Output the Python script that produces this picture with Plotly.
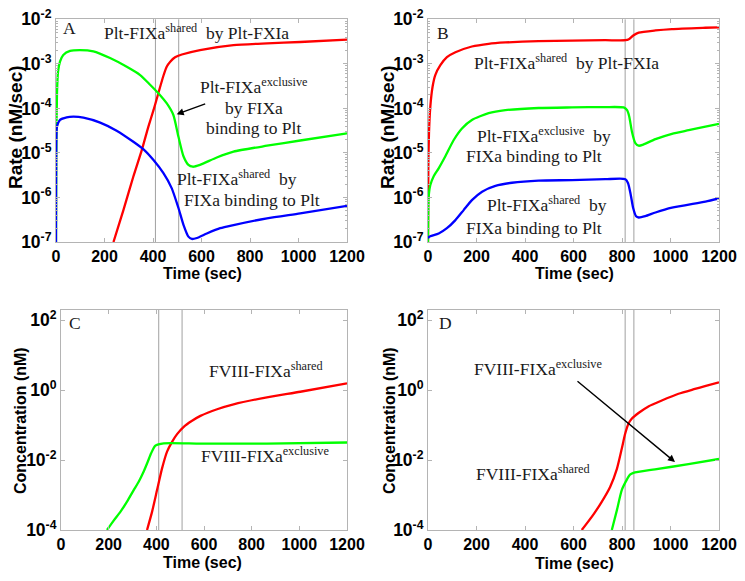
import plotly.graph_objects as go

W, H = 745, 581

# ---------------- Data ----------------
# Panel A: rates (nM/sec) vs time (sec)
tA_green = [0, 1.4, 4.1, 8.3, 16.5, 30, 58, 99, 154, 223, 290, 347, 388, 422, 457, 484, 505, 526, 546, 564, 594, 663, 732, 870, 1007, 1200]
A_green = [1e-7, 1.17e-5, 2.19e-4, 6.6e-4, 1.12e-3, 1.58e-3, 1.95e-3, 2.04e-3, 1.91e-3, 1.35e-3, 8.7e-4, 5.6e-4, 3.4e-4, 2.19e-4, 1.29e-4, 7.1e-5, 2.3e-5, 8.3e-6, 5.4e-6, 4.9e-6, 5.4e-6, 7.9e-6, 1.07e-5, 1.45e-5, 1.9e-5, 2.75e-5]
tA_blue = [0, 1.4, 4, 16.5, 44, 72, 113, 182, 250, 319, 361, 402, 443, 477, 505, 526, 546, 560, 581, 622, 677, 732, 870, 1007, 1200]
A_blue = [1e-7, 1.95e-5, 3.9e-5, 5.5e-5, 6.3e-5, 6.5e-5, 6.2e-5, 4.8e-5, 3.16e-5, 1.78e-5, 1.2e-5, 6.9e-6, 3.5e-6, 1.62e-6, 5.8e-7, 2.4e-7, 1.32e-7, 1.17e-7, 1.23e-7, 1.55e-7, 2.04e-7, 2.4e-7, 3.4e-7, 4.4e-7, 6.5e-7]
tA_red = [237, 278, 319, 354, 381, 402, 422, 443, 457, 471, 491, 519, 594, 732, 870, 1007, 1200]
A_red = [1e-7, 5.2e-7, 2.95e-6, 1.17e-5, 3.9e-5, 9.1e-5, 2.19e-4, 5.4e-4, 8.7e-4, 1.12e-3, 1.41e-3, 1.62e-3, 2.04e-3, 2.63e-3, 2.88e-3, 3.09e-3, 3.5e-3]
events_A = [410, 506]

# Panel B
tB_red = [0, 1.4, 4, 9.6, 19, 30, 51, 78, 113, 181, 250, 319, 456, 594, 731, 814, 830, 848, 869, 938, 1006, 1144, 1200]
B_red = [1e-7, 4.9e-6, 2.75e-5, 1.1e-4, 3.1e-4, 5.6e-4, 9.3e-4, 1.41e-3, 1.82e-3, 2.45e-3, 2.82e-3, 3.02e-3, 3.24e-3, 3.31e-3, 3.39e-3, 3.39e-3, 3.63e-3, 4.37e-3, 5.01e-3, 5.62e-3, 6.03e-3, 6.46e-3, 6.61e-3]
tB_green = [0, 1.4, 4, 9.6, 23, 44, 71, 106, 140, 181, 250, 319, 456, 594, 731, 807, 821, 830, 841, 855, 869, 889, 938, 1006, 1075, 1144, 1200]
B_green = [1e-7, 6.2e-7, 1.23e-6, 1.9e-6, 2.95e-6, 4.5e-6, 8.3e-6, 1.95e-5, 3.55e-5, 5.5e-5, 7.8e-5, 9.1e-5, 1.02e-4, 1.05e-4, 1.07e-4, 1.05e-4, 9.1e-5, 6.5e-5, 3.0e-5, 1.66e-5, 1.45e-5, 1.55e-5, 2.04e-5, 2.69e-5, 3.24e-5, 3.9e-5, 4.5e-5]
tB_blue = [0, 1.4, 9.6, 44, 78, 113, 147, 181, 223, 278, 346, 456, 594, 731, 814, 825, 835, 846, 858, 869, 896, 938, 1006, 1144, 1200]
B_blue = [1.2e-7, 1.26e-7, 1.35e-7, 1.55e-7, 2.04e-7, 3.1e-7, 5.2e-7, 8.7e-7, 1.35e-6, 1.82e-6, 2.14e-6, 2.4e-6, 2.45e-6, 2.57e-6, 2.57e-6, 2.09e-6, 1.23e-6, 5.8e-7, 3.8e-7, 3.55e-7, 3.8e-7, 4.6e-7, 5.9e-7, 8.1e-7, 9.5e-7]
events_B = [813, 849]

# Panel C: concentrations (nM)
tC_green = [193, 221, 249, 277, 305, 326, 347, 364, 378, 396, 431, 585, 864, 1200]
C_green = [1e-4, 1.86e-4, 3.3e-4, 6.5e-4, 1.38e-3, 2.4e-3, 4.7e-3, 8.9e-3, 1.55e-2, 2.57e-2, 3.0e-2, 2.95e-2, 2.95e-2, 3.16e-2]
tC_red = [361, 382, 403, 424, 445, 466, 487, 515, 550, 585, 655, 724, 864, 1004, 1200]
C_red = [1e-4, 3.3e-4, 1.38e-3, 5.75e-3, 1.74e-2, 3.3e-2, 5.5e-2, 8.9e-2, 0.132, 0.182, 0.282, 0.389, 0.617, 0.891, 1.55]
events_C = [410, 508]

# Panel D
tD_red = [634, 676, 717, 751, 779, 799, 813, 827, 840, 868, 909, 964, 1033, 1101, 1142, 1200]
D_red = [1e-4, 2.4e-4, 6.5e-4, 1.7e-3, 5.6e-3, 2.1e-2, 5.6e-2, 0.11, 0.15, 0.22, 0.34, 0.50, 0.78, 1.07, 1.29, 1.66]
tD_green = [758, 779, 799, 820, 833, 847, 936, 1074, 1200]
D_green = [1e-4, 3.7e-4, 1.38e-3, 2.75e-3, 3.8e-3, 4.3e-3, 5.4e-3, 7.6e-3, 1.07e-2]
events_D = [813, 849]

x_ticks = [0, 200, 400, 600, 800, 1000, 1200]
rate_exps = [-7, -6, -5, -4, -3, -2]
conc_exps = [-4, -2, 0, 2]

# ---------------- Styling ----------------
RED, GREEN, BLUE = "#ff0000", "#00ff00", "#0000ff"
BOX = "#b4b4b4"
EVT = "#a0a0a0"
LW = 2.3
SANS = "Liberation Sans, Arial, Helvetica, sans-serif"
SERIF = "Liberation Serif, Times New Roman, serif"


def px(x):
    return x / W


def py(y):
    return 1 - y / H


fig = go.Figure()

panels = [
    ("x", "y", [(tA_red, A_red, RED), (tA_green, A_green, GREEN), (tA_blue, A_blue, BLUE)], events_A),
    ("x2", "y2", [(tB_red, B_red, RED), (tB_green, B_green, GREEN), (tB_blue, B_blue, BLUE)], events_B),
    ("x3", "y3", [(tC_red, C_red, RED), (tC_green, C_green, GREEN)], events_C),
    ("x4", "y4", [(tD_red, D_red, RED), (tD_green, D_green, GREEN)], events_D),
]

shapes = []
for xa, ya, curves, evts in panels:
    for t in evts:
        shapes.append(dict(type="line", xref=xa, yref=ya + " domain", x0=t, x1=t, y0=0, y1=1,
                           line=dict(color=EVT, width=1), layer="below"))
    for tt, vv, col in curves:
        fig.add_trace(go.Scatter(x=tt, y=vv, mode="lines", xaxis=xa, yaxis=ya,
                                 line=dict(color=col, width=LW, shape="spline", smoothing=0.6),
                                 showlegend=False, hoverinfo="skip"))

xtickfont = dict(family=SANS, size=16, color="black", weight="bold")
ytickfont = dict(family=SANS, size=17.5, color="black", weight="bold")


def xaxis(domain, anchor):
    return dict(domain=domain, anchor=anchor, range=[0, 1200], tickmode="array", tickvals=x_ticks,
                ticktext=[str(v) for v in x_ticks], showline=True, linecolor=BOX, linewidth=1,
                mirror="ticks", ticks="inside", ticklen=4, tickcolor=BOX, tickfont=xtickfont,
                showgrid=False, zeroline=False, automargin=False)


def yaxis(domain, anchor, rng, exps, minor=True):
    d = dict(domain=domain, anchor=anchor, type="log", range=rng, tickmode="array",
             tickvals=[10.0 ** e for e in exps], ticktext=["10<sup>%d</sup>" % e for e in exps],
             showline=True, linecolor=BOX, linewidth=1, mirror="ticks", ticks="inside", ticklen=4,
             tickcolor=BOX, tickfont=ytickfont, showgrid=False, zeroline=False, automargin=False)
    if minor:
        mv = []
        for e in range(int(rng[0]), int(rng[1]) + 1):
            for k in range(2, 10):
                mv.append(k * 10.0 ** e)
        d["minor"] = dict(tickmode="array", tickvals=mv, ticks="inside", ticklen=2, tickcolor=BOX, showgrid=False)
    return d


xA = [px(56), px(347)]
xB = [px(428), px(719)]
xC = [px(61), px(347)]
yTop = [py(242), py(19.3)]
yBot = [py(530), py(309.5)]

fig.update_layout(
    width=W, height=H, autosize=False,
    margin=dict(l=0, r=0, t=0, b=0, autoexpand=False),
    paper_bgcolor="white", plot_bgcolor="white",
    xaxis=xaxis(xA, "y"), yaxis=yaxis(yTop, "x", [-7, -2], rate_exps),
    xaxis2=xaxis(xB, "y2"), yaxis2=yaxis(yTop, "x2", [-7, -2], rate_exps),
    xaxis3=xaxis(xC, "y3"), yaxis3=yaxis(yBot, "x3", [-4, 2.3], conc_exps, minor=False),
    xaxis4=xaxis(xB, "y4"), yaxis4=yaxis(yBot, "x4", [-4, 2.3], conc_exps, minor=False),
    shapes=shapes,
)

ann = []
TF = dict(family=SERIF, size=17.5, color="#1a1a1a")


def txt(s, x, y, xanchor="left"):
    ann.append(dict(text=s, x=px(x), y=py(y), xref="paper", yref="paper", xanchor=xanchor,
                    yanchor="middle", showarrow=False, font=TF))


def arrow(x_head, y_head, x_tail, y_tail):
    ann.append(dict(text="", x=px(x_head), y=py(y_head), xref="paper", yref="paper",
                    ax=x_tail - x_head, ay=y_tail - y_head, showarrow=True, arrowhead=2,
                    arrowsize=1, arrowwidth=1.4, arrowcolor="black", standoff=0))


def axtitle(s, x, y, angle=0, size=16):
    ann.append(dict(text=s, x=px(x), y=py(y), xref="paper", yref="paper", xanchor="center",
                    yanchor="middle", showarrow=False, textangle=angle,
                    font=dict(family=SANS, size=size, color="black", weight="bold")))


SP = "&nbsp; "
# Panel A
txt("A", 61, 28)
txt("Plt-FIXa<sup>shared</sup>" + SP + "by Plt-FXIa", 102, 32)
txt("Plt-FIXa<sup>exclusive</sup>", 254, 86, "center")
txt("by FIXa", 254, 108, "center")
txt("binding to Plt", 254, 128, "center")
arrow(176.7, 114.3, 206.7, 103.3)
txt("Plt-FIXa<sup>shared</sup>" + SP + "by", 175, 178)
txt("FIXa binding to Plt", 182, 200)
# Panel B
txt("B", 435, 33)
txt("Plt-FIXa<sup>shared</sup>" + SP + "by Plt-FXIa", 472, 62)
txt("Plt-FIXa<sup>exclusive</sup>" + SP + "by", 475, 135)
txt("FIXa binding to Plt", 464, 156)
txt("Plt-FIXa<sup>shared</sup>" + SP + "by", 485, 204)
txt("FIXa binding to Plt", 464, 228)
# Panel C
txt("C", 67, 323)
txt("FVIII-FIXa<sup>shared</sup>", 207, 370)
txt("FVIII-FIXa<sup>exclusive</sup>", 199, 455)
# Panel D
txt("D", 437, 323)
txt("FVIII-FIXa<sup>exclusive</sup>", 472, 368)
txt("FVIII-FIXa<sup>shared</sup>", 474, 473)
arrow(675, 462, 576, 380)

# Axis titles
axtitle("Rate (nM/sec)", 15, 127, -90, 19)
axtitle("Rate (nM/sec)", 387, 127, -90, 19)
axtitle("Concentration (nM)", 20, 421, -90)
axtitle("Concentration (nM)", 389, 421, -90)
axtitle("Time (sec)", 202, 273)
axtitle("Time (sec)", 574, 273)
axtitle("Time (sec)", 202, 562)
axtitle("Time (sec)", 574, 563)

fig.update_layout(annotations=ann)
fig.write_html("out.html", config={"displayModeBar": False},
               post_script="document.body.style.margin='0px';document.body.style.overflow='hidden';")
